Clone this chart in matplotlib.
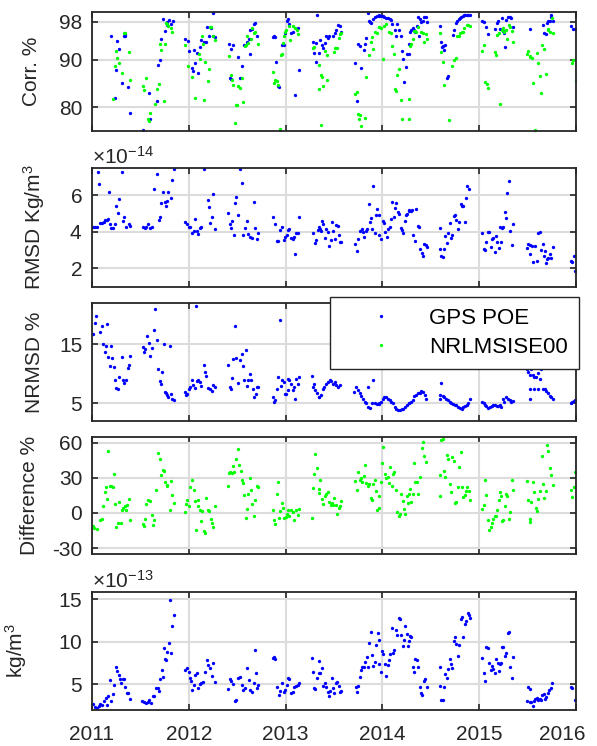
import numpy as np
import matplotlib
matplotlib.use("Agg")
import matplotlib.pyplot as plt
from matplotlib.lines import Line2D
from matplotlib.ticker import ScalarFormatter
from matplotlib.transforms import ScaledTranslation

plt.rcParams["font.family"] = ["Liberation Sans", "DejaVu Sans"]
plt.rcParams["mathtext.fontset"] = "custom"
plt.rcParams["mathtext.rm"] = "Liberation Sans"
plt.rcParams["mathtext.it"] = "Liberation Sans:italic"
plt.rcParams["axes.unicode_minus"] = False

BLUE = "#0000ff"
GREEN = "#00ff00"
INK = "#262626"
GRID = "#dcdcdc"

years = [2011, 2012, 2013, 2014, 2015, 2016]
labels = ["GPS POE", "NRLMSISE00"]

# (decimal year, value)
corr_gps = [
    (2011.20, 94.9), (2011.24, 81.9), (2011.25, 87.9), (2011.26, 93.9), (2011.28, 92.3),
    (2011.31, 85.0), (2011.33, 95.1), (2011.34, 94.9), (2011.34, 95.4), (2011.37, 84.3),
    (2011.39, 78.8), (2011.53, 75.1), (2011.59, 83.0), (2011.60, 77.4), (2011.67, 81.3),
    (2011.68, 88.9), (2011.70, 90.0), (2011.71, 94.3), (2011.73, 98.6), (2011.75, 96.1),
    (2011.77, 97.3), (2011.78, 97.9), (2011.80, 98.4), (2011.82, 97.5), (2011.84, 98.1),
    (2011.96, 94.3), (2011.99, 93.9), (2012.00, 91.8), (2012.05, 92.1), (2012.03, 88.2),
    (2012.04, 87.7), (2012.06, 89.4), (2012.08, 91.4), (2012.10, 87.1), (2012.12, 92.7),
    (2012.13, 94.1), (2012.16, 93.7), (2012.18, 93.7), (2012.19, 96.8), (2012.21, 95.0),
    (2012.23, 96.6), (2012.25, 95.0), (2012.27, 94.8), (2012.25, 99.9),
    (2012.42, 93.4), (2012.46, 93.0), (2012.44, 92.3), (2012.43, 86.1), (2012.44, 85.9),
    (2012.51, 90.6), (2012.53, 86.1), (2012.55, 88.6), (2012.57, 93.0), (2012.60, 93.7),
    (2012.62, 94.4), (2012.63, 96.3), (2012.65, 96.4), (2012.67, 97.5), (2012.68, 97.7),
    (2012.70, 95.0), (2012.63, 91.3),
    (2012.87, 94.8), (2012.88, 95.0), (2012.89, 94.8), (2012.90, 89.6), (2012.92, 84.4),
    (2012.93, 84.2), (2012.94, 75.1), (2012.96, 93.2), (2012.98, 93.2), (2012.99, 95.7),
    (2013.01, 98.2), (2013.03, 98.6), (2013.04, 97.5), (2013.06, 95.7), (2013.08, 95.9),
    (2013.13, 96.6), (2013.14, 87.9), (2013.10, 82.5),
    (2013.28, 93.7), (2013.29, 91.4), (2013.31, 89.6), (2013.31, 93.6), (2013.35, 91.4),
    (2013.36, 94.1), (2013.38, 93.2), (2013.39, 92.5), (2013.41, 93.6), (2013.42, 95.0),
    (2013.44, 94.5), (2013.45, 95.1), (2013.49, 95.0), (2013.51, 95.7), (2013.52, 96.3),
    (2013.54, 97.3), (2013.56, 97.1), (2013.57, 95.9), (2013.32, 99.5),
    (2013.72, 89.4), (2013.75, 93.4), (2013.77, 92.9), (2013.78, 88.3), (2013.81, 92.0),
    (2013.74, 81.3), (2013.82, 93.4), (2013.83, 94.6), (2013.86, 98.1), (2013.87, 98.0),
    (2013.88, 97.7), (2013.85, 99.9), (2013.90, 98.6), (2013.92, 99.1), (2013.94, 99.3),
    (2013.96, 99.3), (2013.97, 99.4), (2013.99, 99.3), (2014.01, 99.3), (2014.02, 99.1),
    (2014.04, 98.9), (2014.06, 98.7), (2014.08, 98.6), (2014.09, 98.4),
    (2014.10, 97.5), (2014.13, 96.2), (2014.15, 97.6), (2014.17, 96.3), (2014.14, 94.9),
    (2014.19, 95.1), (2014.20, 91.8), (2014.21, 90.1), (2014.24, 88.4), (2014.22, 85.2),
    (2014.25, 91.2), (2014.27, 91.2), (2014.28, 93.4), (2014.29, 95.9), (2014.30, 96.3),
    (2014.32, 96.6), (2014.33, 96.3), (2014.34, 95.9), (2014.36, 97.1), (2014.37, 99.1),
    (2014.39, 98.6), (2014.40, 98.0), (2014.42, 98.2), (2014.43, 99.0), (2014.45, 99.1),
    (2014.46, 97.9), (2014.38, 94.9),
    (2014.60, 97.1), (2014.61, 93.7), (2014.63, 92.9), (2014.64, 92.0), (2014.65, 93.1),
    (2014.62, 92.7), (2014.67, 86.1), (2014.68, 86.6), (2014.73, 95.2), (2014.74, 96.3),
    (2014.76, 97.7), (2014.77, 98.2), (2014.79, 98.6), (2014.80, 98.9), (2014.81, 99.1),
    (2014.83, 99.3), (2014.84, 99.4), (2014.85, 99.4), (2014.87, 99.4), (2014.88, 99.4),
    (2014.90, 99.5),
    (2015.03, 98.1), (2015.05, 98.0), (2015.07, 96.8), (2015.09, 95.4), (2015.16, 96.4),
    (2015.18, 97.7), (2015.19, 98.1), (2015.21, 96.4), (2015.24, 98.9), (2015.26, 95.7),
    (2015.27, 92.7), (2015.28, 98.4), (2015.30, 99.1), (2015.32, 99.1), (2015.33, 98.7),
    (2015.35, 97.0), (2015.25, 96.1),
    (2015.52, 96.4), (2015.66, 97.3), (2015.67, 95.6), (2015.69, 95.4), (2015.70, 97.7),
    (2015.71, 98.2), (2015.73, 98.1), (2015.74, 99.1), (2015.74, 99.5), (2015.76, 98.1),
    (2015.95, 97.1), (2015.97, 96.4), (2015.99, 96.4),
]

corr_nrl = [
    (2011.22, 81.6), (2011.24, 88.6), (2011.25, 91.8), (2011.26, 90.4), (2011.28, 89.4),
    (2011.31, 87.1), (2011.33, 95.6), (2011.34, 95.7), (2011.38, 91.6), (2011.39, 85.7),
    (2011.53, 84.4), (2011.56, 86.1), (2011.54, 83.6), (2011.58, 77.5), (2011.59, 77.1),
    (2011.60, 78.8), (2011.65, 80.7), (2011.67, 83.7), (2011.69, 84.9), (2011.70, 93.4),
    (2011.71, 92.1), (2011.74, 81.2), (2011.75, 93.4), (2011.76, 97.7), (2011.78, 97.5),
    (2011.79, 97.1), (2011.82, 96.6), (2011.83, 95.9),
    (2011.96, 93.0), (2011.99, 88.7), (2012.03, 86.4), (2012.06, 82.0), (2012.11, 91.1),
    (2012.12, 90.1), (2012.15, 93.4), (2012.14, 95.0), (2012.16, 81.4), (2012.17, 89.6),
    (2012.20, 85.4), (2012.21, 88.1), (2012.22, 96.8), (2012.23, 96.9), (2012.25, 94.9),
    (2012.27, 94.1),
    (2012.42, 90.7), (2012.44, 86.8), (2012.45, 85.7), (2012.46, 84.6), (2012.48, 76.6),
    (2012.49, 80.5), (2012.50, 80.4), (2012.51, 84.4), (2012.53, 84.1), (2012.55, 86.2),
    (2012.56, 81.1), (2012.58, 92.9), (2012.59, 93.0), (2012.60, 95.0), (2012.61, 93.6),
    (2012.64, 94.3), (2012.65, 96.6), (2012.67, 95.7), (2012.68, 95.9), (2012.71, 93.4),
    (2012.87, 87.3), (2012.88, 85.0), (2012.89, 85.7), (2012.91, 85.4), (2012.92, 84.6),
    (2012.94, 75.4), (2012.95, 90.9), (2012.96, 91.2), (2012.97, 93.6), (2012.98, 95.0),
    (2012.99, 95.9), (2013.00, 96.3),
    (2013.04, 97.1), (2013.05, 94.1), (2013.08, 97.1), (2013.10, 96.6), (2013.12, 96.2),
    (2013.13, 95.4),
    (2013.28, 92.5), (2013.29, 92.7), (2013.35, 88.8), (2013.37, 86.8), (2013.38, 86.4),
    (2013.41, 91.8), (2013.43, 85.7), (2013.39, 84.5), (2013.34, 83.7), (2013.43, 90.9),
    (2013.50, 91.6), (2013.51, 92.5), (2013.53, 92.4), (2013.55, 94.6), (2013.56, 95.4),
    (2013.57, 95.6), (2013.37, 76.1),
    (2013.72, 82.7), (2013.74, 83.1), (2013.75, 78.6), (2013.77, 78.4), (2013.76, 77.5),
    (2013.78, 76.0), (2013.82, 77.7), (2013.83, 86.3), (2013.86, 90.9), (2013.88, 93.7),
    (2013.89, 94.8), (2013.90, 92.3), (2013.92, 95.9), (2013.94, 95.7), (2013.96, 97.0),
    (2013.97, 96.9), (2013.99, 96.7), (2014.02, 97.1), (2014.04, 97.5), (2014.07, 95.9),
    (2014.09, 95.6), (2014.01, 90.1),
    (2014.10, 92.9), (2014.12, 91.1), (2014.13, 83.9), (2014.14, 83.4), (2014.15, 86.7),
    (2014.17, 88.1), (2014.19, 81.4), (2014.20, 77.5), (2014.27, 77.5), (2014.28, 81.6),
    (2014.29, 92.9), (2014.30, 93.4), (2014.32, 94.4), (2014.33, 96.1), (2014.34, 96.1),
    (2014.35, 95.9), (2014.37, 97.0), (2014.40, 95.9), (2014.42, 95.7), (2014.43, 93.8),
    (2014.45, 95.4), (2014.46, 94.3),
    (2014.60, 95.6), (2014.61, 91.6), (2014.63, 89.6), (2014.64, 84.7), (2014.69, 77.3),
    (2014.72, 88.7), (2014.74, 90.0), (2014.76, 90.4), (2014.77, 95.0), (2014.79, 95.0),
    (2014.80, 95.7), (2014.82, 95.9), (2014.83, 95.9), (2014.84, 96.6), (2014.87, 97.3),
    (2014.88, 97.3), (2014.90, 97.1),
    (2015.03, 91.8), (2015.05, 93.0), (2015.06, 85.3), (2015.08, 84.9), (2015.09, 84.0),
    (2015.16, 91.7), (2015.17, 90.9), (2015.18, 95.2), (2015.20, 95.6), (2015.21, 80.7),
    (2015.24, 96.2), (2015.25, 96.6), (2015.26, 95.9), (2015.28, 96.2), (2015.29, 94.3),
    (2015.31, 97.3), (2015.32, 96.9), (2015.34, 96.1), (2015.35, 93.8),
    (2015.49, 91.2), (2015.50, 91.8), (2015.52, 90.7), (2015.53, 90.5), (2015.55, 90.4),
    (2015.56, 85.0), (2015.58, 75.1), (2015.60, 91.4), (2015.61, 89.3), (2015.63, 86.6),
    (2015.64, 82.9), (2015.65, 93.2), (2015.67, 92.3), (2015.69, 87.0), (2015.71, 96.3),
    (2015.71, 96.4), (2015.73, 95.9), (2015.75, 98.9), (2015.76, 95.7),
    (2015.96, 89.4), (2015.97, 89.9), (2016.00, 85.7),
]

# RMSD in units of 1e-14 kg/m^3
rmsd_gps = [
    (2011.01, 4.27), (2011.03, 4.24), (2011.05, 4.24), (2011.06, 7.24), (2011.07, 6.60),
    (2011.08, 4.49), (2011.10, 4.49), (2011.12, 4.53), (2011.13, 4.64), (2011.15, 4.67),
    (2011.17, 4.69), (2011.18, 6.18), (2011.19, 4.42), (2011.20, 4.20), (2011.22, 4.20),
    (2011.24, 4.42), (2011.25, 5.42), (2011.27, 5.05), (2011.28, 5.78), (2011.31, 7.25),
    (2011.32, 4.60), (2011.33, 4.82), (2011.35, 4.24), (2011.38, 4.45), (2011.39, 4.31),
    (2011.53, 4.24), (2011.55, 4.18), (2011.56, 4.27), (2011.58, 4.42), (2011.60, 4.18),
    (2011.62, 4.24), (2011.64, 6.35), (2011.67, 7.18), (2011.69, 4.64), (2011.70, 4.82),
    (2011.71, 5.55), (2011.73, 6.18), (2011.75, 5.60), (2011.76, 5.40), (2011.77, 5.69),
    (2011.79, 6.18), (2011.82, 5.87), (2011.83, 6.82), (2011.85, 7.45),
    (2011.96, 4.51), (2011.98, 4.42), (2012.00, 4.27), (2012.01, 4.24), (2012.03, 3.95),
    (2012.05, 4.05), (2012.06, 4.71), (2012.08, 4.05), (2012.10, 3.87), (2012.12, 4.18),
    (2012.13, 4.24), (2012.16, 7.45), (2012.20, 5.73), (2012.21, 5.33), (2012.22, 4.49),
    (2012.24, 4.82), (2012.25, 6.05), (2012.27, 4.13),
    (2012.41, 5.04), (2012.43, 4.42), (2012.44, 4.18), (2012.45, 4.60), (2012.47, 3.82),
    (2012.48, 5.55), (2012.49, 5.91), (2012.51, 4.91), (2012.53, 7.44), (2012.55, 6.64),
    (2012.56, 3.82), (2012.58, 4.18), (2012.60, 4.60), (2012.61, 3.87), (2012.63, 3.73),
    (2012.65, 3.64), (2012.67, 5.64), (2012.68, 4.18), (2012.70, 3.60), (2012.71, 3.91),
    (2012.87, 4.78), (2012.89, 4.42), (2012.91, 3.51), (2012.92, 3.49), (2012.94, 4.09),
    (2012.96, 4.24), (2012.98, 3.55), (2012.99, 3.73), (2013.01, 3.82), (2013.03, 4.09),
    (2013.04, 4.13), (2013.06, 3.64), (2013.08, 3.58), (2013.09, 3.69), (2013.11, 3.91),
    (2013.13, 3.95), (2013.14, 4.82), (2013.10, 2.76),
    (2013.28, 3.91), (2013.30, 3.40), (2013.31, 3.55), (2013.33, 4.09), (2013.34, 4.24),
    (2013.36, 4.13), (2013.37, 4.05), (2013.38, 4.60), (2013.39, 4.42), (2013.41, 3.64),
    (2013.42, 4.13), (2013.44, 4.00), (2013.45, 3.24), (2013.47, 3.55), (2013.48, 4.55),
    (2013.49, 4.05), (2013.51, 3.60), (2013.52, 4.36), (2013.54, 4.31), (2013.55, 3.82),
    (2013.56, 3.42), (2013.57, 3.44),
    (2013.72, 3.31), (2013.74, 2.96), (2013.75, 3.58), (2013.77, 4.05), (2013.79, 4.13),
    (2013.80, 4.00), (2013.81, 3.69), (2013.83, 4.05), (2013.84, 4.13), (2013.86, 5.51),
    (2013.87, 4.55), (2013.88, 4.76), (2013.89, 4.15), (2013.90, 6.49), (2013.92, 3.95),
    (2013.93, 4.91), (2013.94, 5.27), (2013.96, 4.93), (2013.97, 3.82), (2013.99, 3.58),
    (2014.01, 4.60), (2014.02, 4.49), (2014.03, 4.00), (2014.05, 3.69), (2014.06, 4.13),
    (2014.08, 4.24), (2014.09, 4.71), (2014.10, 5.64), (2014.12, 4.78), (2014.13, 5.31),
    (2014.14, 5.58), (2014.16, 5.07), (2014.17, 4.96), (2014.19, 4.18), (2014.20, 4.09),
    (2014.21, 3.95), (2014.23, 4.58), (2014.24, 4.89), (2014.25, 4.96), (2014.27, 5.13),
    (2014.28, 5.18), (2014.30, 5.15), (2014.31, 5.18), (2014.32, 3.80), (2014.34, 3.51),
    (2014.35, 5.22), (2014.37, 4.31), (2014.38, 4.24), (2014.39, 3.04), (2014.41, 2.82),
    (2014.42, 2.67), (2014.43, 3.33), (2014.45, 3.25), (2014.46, 3.18),
    (2014.59, 4.18), (2014.60, 3.04), (2014.61, 2.67), (2014.63, 2.64), (2014.64, 3.04),
    (2014.65, 3.78), (2014.67, 3.36), (2014.68, 3.95), (2014.70, 4.49), (2014.71, 3.67),
    (2014.72, 3.82), (2014.74, 4.84), (2014.75, 4.91), (2014.76, 4.67), (2014.78, 4.13),
    (2014.79, 4.55), (2014.81, 5.49), (2014.82, 5.40), (2014.83, 5.40), (2014.85, 4.56),
    (2014.86, 5.82), (2014.87, 6.49), (2014.89, 6.31),
    (2015.03, 3.91), (2015.05, 3.05), (2015.06, 3.00), (2015.07, 3.45), (2015.09, 3.98),
    (2015.10, 4.00), (2015.12, 3.15), (2015.13, 3.62), (2015.14, 3.67), (2015.16, 2.91),
    (2015.17, 3.78), (2015.18, 3.42), (2015.20, 3.09), (2015.21, 4.27), (2015.23, 3.44),
    (2015.24, 4.18), (2015.25, 4.27), (2015.27, 5.07), (2015.28, 4.73), (2015.29, 6.11),
    (2015.31, 6.75), (2015.32, 4.04), (2015.34, 3.29), (2015.35, 4.45),
    (2015.49, 3.13), (2015.50, 3.33), (2015.52, 2.78), (2015.53, 3.25), (2015.55, 3.22),
    (2015.56, 2.36), (2015.58, 3.22), (2015.60, 2.42), (2015.61, 3.96), (2015.63, 4.00),
    (2015.64, 3.00), (2015.66, 3.31), (2015.67, 2.67), (2015.68, 2.96), (2015.69, 2.27),
    (2015.70, 2.49), (2015.71, 2.55), (2015.73, 2.76), (2015.74, 2.55), (2015.76, 3.15),
    (2015.95, 2.42), (2015.96, 2.33), (2015.98, 2.67), (2015.99, 1.85),
]

nrmsd_gps = [
    (2011.01, 16.7), (2011.03, 18.6), (2011.04, 19.8), (2011.08, 17.2), (2011.10, 18.1),
    (2011.11, 15.0), (2011.14, 14.7), (2011.15, 18.5), (2011.13, 13.7), (2011.17, 12.8),
    (2011.19, 11.3), (2011.20, 14.8), (2011.21, 12.7), (2011.23, 11.1), (2011.24, 9.0),
    (2011.25, 7.6), (2011.27, 7.5), (2011.28, 9.5), (2011.31, 12.9), (2011.32, 9.0),
    (2011.33, 8.4), (2011.35, 9.0), (2011.37, 11.0), (2011.38, 11.5), (2011.39, 13.1),
    (2011.53, 14.6), (2011.54, 13.7), (2011.55, 14.2), (2011.57, 16.5), (2011.59, 15.3),
    (2011.60, 13.0), (2011.62, 14.4), (2011.64, 17.5), (2011.65, 21.1), (2011.67, 15.7),
    (2011.68, 10.9), (2011.70, 8.8), (2011.71, 8.2), (2011.72, 10.4), (2011.74, 15.1),
    (2011.75, 6.9), (2011.76, 6.7), (2011.77, 6.4), (2011.79, 6.1), (2011.81, 14.7),
    (2011.82, 6.6), (2011.83, 5.7), (2011.85, 5.6),
    (2011.96, 6.9), (2011.97, 6.4), (2011.98, 6.6), (2012.00, 7.5), (2012.01, 7.8),
    (2012.03, 8.9), (2012.04, 8.1), (2012.06, 7.6), (2012.07, 21.5), (2012.08, 8.8),
    (2012.10, 9.0), (2012.12, 8.7), (2012.13, 7.9), (2012.16, 11.5), (2012.17, 10.3),
    (2012.18, 9.7), (2012.20, 7.6), (2012.22, 7.5), (2012.24, 7.1), (2012.25, 8.1),
    (2012.27, 7.7),
    (2012.41, 11.5), (2012.43, 7.8), (2012.44, 7.4), (2012.45, 9.3), (2012.46, 12.6),
    (2012.48, 18.2), (2012.49, 12.7), (2012.51, 8.5), (2012.53, 12.4), (2012.55, 13.3),
    (2012.56, 11.4), (2012.57, 9.0), (2012.59, 14.0), (2012.60, 8.0), (2012.61, 8.9),
    (2012.63, 9.9), (2012.64, 9.0), (2012.66, 7.4), (2012.67, 6.0), (2012.69, 6.5),
    (2012.70, 7.8), (2012.71, 7.8),
    (2012.87, 6.0), (2012.88, 5.3), (2012.89, 5.6), (2012.91, 7.4), (2012.92, 9.4),
    (2012.94, 19.2), (2012.95, 7.9), (2012.96, 8.9), (2012.98, 8.6), (2012.99, 6.5),
    (2013.00, 6.6), (2013.02, 7.2), (2013.03, 9.2), (2013.04, 9.0), (2013.06, 8.3),
    (2013.08, 7.2), (2013.09, 7.8), (2013.10, 5.8), (2013.11, 9.2), (2013.13, 8.3),
    (2013.14, 9.4),
    (2013.27, 9.6), (2013.28, 7.8), (2013.29, 8.3), (2013.30, 7.2), (2013.32, 6.8),
    (2013.34, 6.0), (2013.35, 6.1), (2013.37, 6.4), (2013.39, 7.4), (2013.40, 7.8),
    (2013.42, 8.3), (2013.44, 8.7), (2013.46, 9.0), (2013.47, 8.8), (2013.49, 8.3),
    (2013.51, 8.6), (2013.52, 8.1), (2013.54, 7.8), (2013.56, 8.1),
    (2013.71, 7.0), (2013.73, 7.8), (2013.75, 7.2), (2013.77, 6.7), (2013.78, 6.2),
    (2013.80, 5.7), (2013.82, 5.3), (2013.83, 5.0), (2013.85, 4.4), (2013.87, 4.2),
    (2013.85, 7.7), (2013.90, 9.0), (2013.89, 5.0), (2013.92, 5.1), (2013.94, 4.9),
    (2013.96, 4.8), (2013.97, 5.0), (2013.99, 5.2), (2014.01, 5.8), (2014.02, 6.1),
    (2014.04, 6.0), (2014.06, 5.8), (2014.08, 5.6), (2014.09, 5.3), (2014.11, 5.0),
    (2014.13, 4.3), (2014.14, 4.0), (2014.16, 3.9), (2014.18, 3.9), (2014.20, 4.0),
    (2014.21, 4.0), (2014.23, 4.3), (2014.25, 4.7), (2014.27, 5.0), (2014.28, 5.1),
    (2014.30, 5.3), (2014.32, 5.6), (2014.33, 6.2), (2014.35, 6.4), (2014.37, 6.8),
    (2014.39, 6.7), (2014.40, 7.1), (2014.42, 7.0), (2014.44, 6.4), (2014.45, 5.8),
    (2014.59, 5.8), (2014.60, 6.4), (2014.61, 8.4), (2014.63, 6.2), (2014.64, 6.0),
    (2014.66, 5.8), (2014.68, 5.6), (2014.70, 5.3), (2014.71, 5.0), (2014.73, 4.9),
    (2014.75, 4.7), (2014.76, 4.7), (2014.78, 4.4), (2014.80, 4.2), (2014.82, 4.0),
    (2014.83, 4.3), (2014.85, 4.6), (2014.87, 4.7), (2014.88, 5.0), (2014.90, 5.7),
    (2015.03, 5.3), (2015.05, 5.0), (2015.06, 4.7), (2015.07, 4.6), (2015.09, 4.2),
    (2015.11, 4.4), (2015.13, 4.6), (2015.14, 4.7), (2015.16, 4.7), (2015.18, 4.6),
    (2015.19, 4.6), (2015.21, 4.7), (2015.23, 4.4), (2015.25, 5.8), (2015.26, 5.3),
    (2015.28, 6.1), (2015.30, 5.7), (2015.32, 5.6), (2015.33, 5.3), (2015.35, 5.4),
    (2015.49, 10.9), (2015.50, 10.4), (2015.52, 9.8), (2015.54, 10.9), (2015.56, 9.8),
    (2015.57, 9.4), (2015.59, 9.4), (2015.61, 10.1), (2015.63, 9.2), (2015.64, 10.9),
    (2015.66, 7.5), (2015.52, 7.4), (2015.57, 7.4), (2015.61, 7.4), (2015.52, 5.7),
    (2015.68, 7.4), (2015.69, 7.1), (2015.71, 6.7), (2015.73, 6.2), (2015.74, 6.0),
    (2015.76, 5.8),
    (2015.95, 5.1), (2015.96, 5.2), (2015.98, 5.4), (2015.99, 5.6),
]

diff_nrl = [
    (2011.01, -11.4), (2011.02, -12.5), (2011.05, -13.7), (2011.08, -5.7), (2011.10, -4.8),
    (2011.11, 5.7), (2011.13, 17.9), (2011.14, 21.7), (2011.15, 11.7), (2011.17, 52.7),
    (2011.19, 23.1), (2011.20, 22.8), (2011.22, 22.2), (2011.23, 32.8), (2011.24, 7.4),
    (2011.25, -12.0), (2011.27, -8.5), (2011.28, 9.4), (2011.30, -8.5), (2011.31, 2.3),
    (2011.32, 4.6), (2011.34, 5.7), (2011.35, 2.8), (2011.36, 6.6), (2011.38, 12.3),
    (2011.39, -6.3),
    (2011.53, -9.7), (2011.54, -11.1), (2011.55, -4.8), (2011.56, 7.4), (2011.58, 11.4),
    (2011.60, 10.3), (2011.62, -2.0), (2011.63, -10.5), (2011.64, -6.3), (2011.66, 19.4),
    (2011.68, 51.3), (2011.70, 46.2), (2011.71, 32.2), (2011.73, 36.5), (2011.74, 35.9),
    (2011.75, 26.5), (2011.77, 23.6), (2011.78, 22.8), (2011.81, 2.3), (2011.82, 27.4),
    (2011.83, 15.1), (2011.85, 8.5),
    (2011.96, 1.1), (2011.97, 8.0), (2011.98, 10.8), (2012.00, 5.7), (2012.01, 22.2),
    (2012.03, 27.9), (2012.05, 19.9), (2012.06, 10.3), (2012.07, -14.2), (2012.09, 5.7),
    (2012.10, 10.8), (2012.12, 2.8), (2012.13, -6.8), (2012.14, 1.7), (2012.16, -15.4),
    (2012.17, -17.1), (2012.18, 13.1), (2012.20, 2.3), (2012.21, 1.4), (2012.23, -4.8),
    (2012.24, -8.5), (2012.25, -12.0), (2012.27, 5.7),
    (2012.41, 23.1), (2012.42, 34.2), (2012.43, 35.0), (2012.45, 34.2), (2012.46, 40.2),
    (2012.47, 35.0), (2012.49, 45.6), (2012.51, 54.1), (2012.52, 40.7), (2012.54, 35.9),
    (2012.55, 27.9), (2012.56, 25.1), (2012.57, 15.1), (2012.59, -4.0), (2012.60, 3.7),
    (2012.61, 16.5), (2012.63, 30.2), (2012.64, 19.4), (2012.65, 8.0), (2012.67, -2.8),
    (2012.68, 10.8), (2012.70, 22.8), (2012.71, 21.7),
    (2012.87, 2.8), (2012.88, -5.7), (2012.89, -9.7), (2012.91, 16.0), (2012.92, 26.5),
    (2012.93, -4.0), (2012.94, 1.7), (2012.96, 8.5), (2012.97, 4.6), (2012.98, -4.0),
    (2013.00, -3.4), (2013.01, -1.1), (2013.02, 2.3), (2013.04, -2.3), (2013.06, 2.8),
    (2013.08, 0.9), (2013.09, -5.7), (2013.11, 2.8), (2013.13, -2.0), (2013.14, 3.4),
    (2013.27, -4.0), (2013.28, 21.4), (2013.29, 33.6), (2013.30, 50.1), (2013.32, 37.9),
    (2013.34, 20.2), (2013.35, 17.1), (2013.36, 27.9), (2013.38, 12.3), (2013.39, 7.4),
    (2013.41, 14.2), (2013.42, 16.0), (2013.44, 17.9), (2013.45, 9.4), (2013.47, 6.6),
    (2013.48, 8.5), (2013.49, 6.6), (2013.50, 13.1), (2013.52, 7.1), (2013.53, -1.1),
    (2013.55, 4.0), (2013.56, 5.7), (2013.57, 10.3),
    (2013.72, 27.4), (2013.74, 19.4), (2013.75, 35.0), (2013.77, 27.9), (2013.78, 30.2),
    (2013.79, 26.5), (2013.81, 31.3), (2013.82, 40.7), (2013.83, 25.6), (2013.85, 22.8),
    (2013.86, 24.5), (2013.88, 12.8), (2013.89, 10.8), (2013.90, 24.5), (2013.92, 28.5),
    (2013.93, 18.8), (2013.94, 2.8), (2013.96, 4.6), (2013.97, 14.8), (2013.99, 26.5),
    (2014.00, 42.2), (2014.01, 56.4), (2014.03, 32.8), (2014.04, 30.2), (2014.06, 30.8),
    (2014.07, 25.1), (2014.08, 39.3), (2014.10, 22.8), (2014.11, 33.6), (2014.12, 34.8),
    (2014.14, 19.9), (2014.15, 0.6), (2014.17, -2.8), (2014.18, -0.6), (2014.19, 16.0),
    (2014.21, 10.3), (2014.22, 3.7), (2014.23, -0.6), (2014.25, 14.2), (2014.26, 8.5),
    (2014.28, 16.0), (2014.29, 20.2), (2014.30, 9.7), (2014.32, 16.0), (2014.33, 42.2),
    (2014.34, 26.5), (2014.36, 26.5), (2014.37, 16.0), (2014.39, 30.8), (2014.41, 55.0),
    (2014.42, 60.1), (2014.43, 48.4), (2014.45, 43.6),
    (2014.59, 14.2), (2014.60, 32.2), (2014.61, 62.1), (2014.63, 63.2), (2014.64, 35.9),
    (2014.65, 30.8), (2014.67, 49.3), (2014.68, 46.4), (2014.70, 24.5), (2014.71, 17.9),
    (2014.72, 47.3), (2014.74, 44.2), (2014.75, 8.5), (2014.76, 9.4), (2014.78, 21.7),
    (2014.79, 39.3), (2014.81, 52.1), (2014.82, 22.2), (2014.83, 13.7), (2014.85, 15.1),
    (2014.86, 18.8), (2014.87, 21.7), (2014.89, 18.8), (2014.90, 10.8),
    (2015.03, 3.4), (2015.05, 6.6), (2015.06, 27.9), (2015.07, 15.7), (2015.09, -5.7),
    (2015.10, -14.8), (2015.12, -12.0), (2015.13, -8.5), (2015.14, -4.8), (2015.16, -2.8),
    (2015.17, -2.8), (2015.18, 2.8), (2015.20, 10.8), (2015.21, 17.9), (2015.23, 14.2),
    (2015.24, -6.8), (2015.25, -6.3), (2015.27, 5.7), (2015.28, 16.0), (2015.29, 14.2),
    (2015.31, -4.8), (2015.32, 0.9), (2015.34, 28.5), (2015.35, 19.9),
    (2015.49, 27.4), (2015.50, 11.4), (2015.52, -7.7), (2015.53, -4.8), (2015.54, 9.4),
    (2015.56, 26.5), (2015.57, 17.9), (2015.59, 4.6), (2015.60, 1.4), (2015.61, 12.3),
    (2015.63, 18.8), (2015.65, 48.4), (2015.66, 24.5), (2015.67, 13.1), (2015.69, 18.8),
    (2015.70, 57.8), (2015.71, 53.0), (2015.73, 37.9), (2015.74, 32.2), (2015.76, 23.6),
    (2015.95, 19.4), (2015.96, 13.7), (2015.98, 21.7), (2015.99, 35.0),
]

# density in units of 1e-13 kg/m^3
dens_gps = [
    (2011.01, 2.63), (2011.03, 2.35), (2011.05, 2.16), (2011.07, 2.47), (2011.08, 2.67),
    (2011.10, 2.51), (2011.12, 3.02), (2011.14, 3.41), (2011.15, 2.55), (2011.17, 3.61),
    (2011.19, 5.49), (2011.20, 3.06), (2011.22, 3.80), (2011.23, 4.90), (2011.25, 6.98),
    (2011.26, 6.59), (2011.28, 6.08), (2011.29, 5.61), (2011.30, 5.10), (2011.32, 5.65),
    (2011.33, 5.61), (2011.34, 4.63), (2011.36, 4.00), (2011.37, 3.92), (2011.39, 3.29),
    (2011.52, 2.98), (2011.54, 2.94), (2011.56, 2.75), (2011.58, 2.94), (2011.59, 3.14),
    (2011.61, 2.82), (2011.63, 3.61), (2011.64, 3.61), (2011.66, 4.59), (2011.68, 4.59),
    (2011.69, 4.20), (2011.70, 5.57), (2011.72, 6.67), (2011.73, 5.88), (2011.74, 9.22),
    (2011.75, 7.92), (2011.76, 7.84), (2011.78, 8.82), (2011.80, 9.88), (2011.81, 14.90),
    (2011.82, 8.71), (2011.83, 11.84), (2011.85, 13.14),
    (2011.96, 6.67), (2011.98, 6.86), (2012.00, 6.47), (2012.01, 5.69), (2012.02, 5.41),
    (2012.03, 4.31), (2012.05, 4.90), (2012.06, 6.08), (2012.08, 6.27), (2012.10, 4.51),
    (2012.12, 5.02), (2012.13, 5.10), (2012.15, 5.22), (2012.17, 6.47), (2012.19, 7.84),
    (2012.20, 7.25), (2012.22, 6.86), (2012.24, 5.96), (2012.25, 7.45), (2012.27, 5.22),
    (2012.41, 4.39), (2012.43, 5.61), (2012.44, 5.41), (2012.46, 5.02), (2012.48, 3.02),
    (2012.49, 3.14), (2012.51, 5.69), (2012.53, 5.88), (2012.55, 4.90), (2012.56, 4.31),
    (2012.58, 4.59), (2012.60, 6.86), (2012.62, 5.49), (2012.63, 4.31), (2012.65, 4.12),
    (2012.67, 5.18), (2012.68, 9.02), (2012.69, 6.35), (2012.70, 4.51), (2012.71, 4.90),
    (2012.87, 8.04), (2012.88, 8.24), (2012.89, 7.92), (2012.91, 4.71), (2012.93, 3.73),
    (2012.94, 4.24), (2012.96, 5.10), (2012.98, 4.12), (2012.99, 4.31), (2013.01, 4.90),
    (2013.03, 5.69), (2013.04, 5.57), (2013.06, 3.92), (2013.08, 4.12), (2013.09, 4.71),
    (2013.11, 4.78), (2013.13, 4.90), (2013.14, 5.18),
    (2013.27, 8.04), (2013.28, 6.47), (2013.29, 4.51), (2013.30, 4.39), (2013.32, 5.69),
    (2013.34, 7.76), (2013.35, 6.35), (2013.36, 6.27), (2013.38, 6.86), (2013.39, 4.78),
    (2013.41, 5.10), (2013.42, 4.63), (2013.44, 4.12), (2013.45, 3.61), (2013.46, 4.24),
    (2013.48, 5.69), (2013.49, 4.51), (2013.50, 4.00), (2013.52, 5.10), (2013.53, 5.29),
    (2013.55, 4.78), (2013.56, 4.12), (2013.57, 4.20),
    (2013.73, 4.71), (2013.74, 4.12), (2013.75, 4.78), (2013.77, 5.80), (2013.78, 6.67),
    (2013.79, 6.98), (2013.81, 6.98), (2013.82, 7.65), (2013.84, 8.16), (2013.85, 7.06),
    (2013.86, 9.80), (2013.88, 11.10), (2013.89, 8.43), (2013.90, 7.14), (2013.92, 7.65),
    (2013.93, 9.61), (2013.95, 11.06), (2013.96, 10.20), (2013.97, 7.37), (2013.99, 6.39),
    (2014.00, 8.94), (2014.01, 8.55), (2014.03, 7.37), (2014.04, 5.96), (2014.06, 7.25),
    (2014.07, 7.84), (2014.08, 8.55), (2014.10, 11.57), (2014.11, 8.63), (2014.12, 9.02),
    (2014.14, 11.37), (2014.15, 10.78), (2014.17, 12.75), (2014.18, 12.67), (2014.19, 10.78),
    (2014.21, 9.49), (2014.22, 10.20), (2014.23, 11.84), (2014.25, 10.90), (2014.26, 9.49),
    (2014.28, 10.12), (2014.29, 10.67), (2014.30, 10.51), (2014.32, 7.06), (2014.33, 6.47),
    (2014.34, 7.92), (2014.36, 7.84), (2014.37, 7.06), (2014.39, 4.71), (2014.40, 3.92),
    (2014.41, 3.73), (2014.43, 5.41), (2014.44, 5.57), (2014.46, 4.71),
    (2014.59, 6.98), (2014.60, 4.78), (2014.61, 3.14), (2014.63, 3.14), (2014.64, 4.63),
    (2014.65, 6.20), (2014.67, 5.69), (2014.68, 6.75), (2014.70, 7.92), (2014.71, 7.37),
    (2014.72, 6.86), (2014.74, 10.08), (2014.75, 10.51), (2014.76, 9.73), (2014.78, 8.31),
    (2014.79, 9.61), (2014.81, 12.63), (2014.82, 12.94), (2014.83, 10.51), (2014.85, 12.08),
    (2014.86, 12.47), (2014.88, 13.33), (2014.89, 13.14), (2014.90, 12.75),
    (2015.03, 8.04), (2015.05, 6.27), (2015.06, 5.41), (2015.07, 9.33), (2015.09, 9.22),
    (2015.10, 7.53), (2015.12, 6.67), (2015.13, 7.14), (2015.14, 6.78), (2015.16, 6.27),
    (2015.17, 7.92), (2015.19, 7.45), (2015.20, 6.59), (2015.21, 7.37), (2015.23, 7.45),
    (2015.24, 9.41), (2015.25, 9.33), (2015.27, 8.31), (2015.28, 8.71), (2015.30, 10.98),
    (2015.31, 11.10), (2015.32, 6.98), (2015.34, 5.69), (2015.35, 8.24),
    (2015.49, 3.02), (2015.50, 4.71), (2015.52, 4.39), (2015.53, 2.94), (2015.54, 2.94),
    (2015.56, 2.43), (2015.57, 3.06), (2015.58, 3.22), (2015.60, 3.33), (2015.61, 3.14),
    (2015.63, 3.22), (2015.64, 3.14), (2015.65, 3.73), (2015.67, 3.84), (2015.68, 3.22),
    (2015.69, 3.53), (2015.71, 4.00), (2015.72, 4.31), (2015.74, 4.51), (2015.75, 5.18),
    (2015.95, 4.63), (2015.96, 4.51), (2015.99, 3.14),
]


def xy(pairs, scale=1.0):
    arr = np.array(pairs, dtype=float)
    return arr[:, 0], arr[:, 1] * scale


def style(ax, yticks, ylim, ylabel, label_x):
    ax.set_xlim(2011, 2016)
    ax.set_xticks(years)
    ax.set_xticklabels([str(y) for y in years])
    ax.set_ylim(*ylim)
    ax.set_yticks(yticks)
    ax.grid(True, color=GRID, lw=1.5)
    ax.set_axisbelow(True)
    ax.tick_params(direction="in", length=4, width=1.2, colors=INK,
                   labelsize=15, top=True, right=True)
    ax.tick_params(axis="y", pad=7)
    ax.tick_params(axis="x", pad=11, labelbottom=False)
    for s in ax.spines.values():
        s.set_linewidth(1.3)
        s.set_color(INK)
    ax.set_ylabel(ylabel, fontsize=15, color=INK)
    ax.yaxis.set_label_coords(label_x, 0.5)


def sci(ax, power):
    fmt = ScalarFormatter(useMathText=True)
    fmt.set_powerlimits((power, power))
    ax.yaxis.set_major_formatter(fmt)
    ax.yaxis.get_offset_text().set_fontsize(15)
    ax.yaxis.get_offset_text().set_color(INK)


fig = plt.figure(figsize=(5.97, 7.46), dpi=100)
left, width = 0.1541, 0.8107
rows = [(0.8248, 0.1587), (0.6157, 0.1595), (0.4357, 0.1578),
        (0.2574, 0.1572), (0.0483, 0.1586)]
ax1, ax2, ax3, ax4, ax5 = [fig.add_axes([left, y0, width, h]) for y0, h in rows]

pt = dict(ls="none", marker="o", ms=2.4, mew=0)

# correlation
t, v = xy(corr_gps)
ax1.plot(t, v, color=BLUE, **pt)
t, v = xy(corr_nrl)
ax1.plot(t, v, color=GREEN, **pt)
style(ax1, [80, 90, 98], (75, 100), "Corr. %", -0.106)

# RMSD
t, v = xy(rmsd_gps, 1e-14)
ax2.plot(t, v, color=BLUE, **pt)
style(ax2, [2e-14, 4e-14, 6e-14], (1e-14, 7.5e-14), "RMSD Kg/m$^3$", -0.092)
sci(ax2, -14)

# NRMSD
t, v = xy(nrmsd_gps)
ax3.plot(t, v, color=BLUE, **pt)
style(ax3, [5, 15], (2, 22), "NRMSD %", -0.100)
handles = [Line2D([], [], color=BLUE, **pt), Line2D([], [], color=GREEN, **pt)]
leg = ax3.legend(handles, labels, loc="upper right", bbox_to_anchor=(1.006, 1.054),
                 borderaxespad=0, fontsize=16, fancybox=False, framealpha=1,
                 edgecolor=INK, handlelength=3.6, handletextpad=0.35,
                 borderpad=0.5, labelspacing=0.35)
leg.get_frame().set_linewidth(1.0)

# difference
t, v = xy(diff_nrl)
ax4.plot(t, v, color=GREEN, **pt)
style(ax4, [-30, 0, 30, 60], (-35, 65), "Difference %", -0.110)

# density
t, v = xy(dens_gps, 1e-13)
ax5.plot(t, v, color=BLUE, **pt)
style(ax5, [5e-13, 10e-13, 15e-13], (1.95e-13, 15.9e-13), "kg/m$^3$", -0.130)
sci(ax5, -13)
ax5.tick_params(axis="x", labelbottom=True)

# the last year label is pulled inward so it stays inside the figure
fig.canvas.draw()
last = ax5.get_xticklabels()[-1]
last.set_transform(last.get_transform() + ScaledTranslation(-0.14, 0, fig.dpi_scale_trans))

fig.savefig("out.png", dpi=100)
